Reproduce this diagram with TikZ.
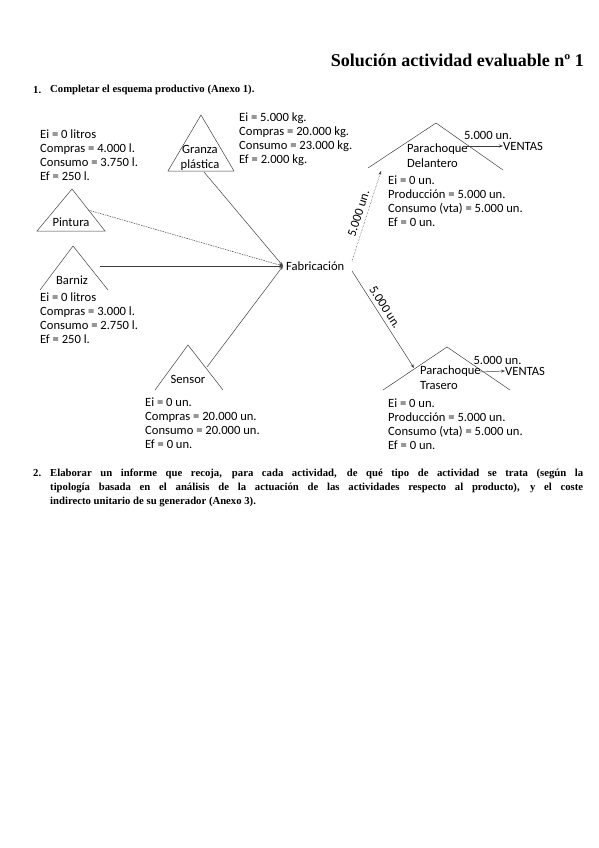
\documentclass[tikz,border=0pt]{standalone}
\usepackage{fontspec}
\setmainfont{Liberation Serif}
\newfontfamily\diagfont{Carlito}
\usetikzlibrary{arrows.meta}
\tikzset{
  info/.style={font=\diagfont\fontsize{12.6}{13.9}\selectfont, align=left, anchor=north west, inner sep=0pt},
  lbl/.style={font=\diagfont\fontsize{12.6}{14.5}\selectfont, inner sep=0pt},
  shapeline/.style={draw=black!75, line width=0.5pt},
  conn/.style={draw=black!75, line width=0.5pt, -{Stealth[length=4pt,width=3pt]}},
  head/.style={font=\bfseries\fontsize{10.7}{14}\selectfont, inner sep=0pt}
}
\begin{document}
\begin{tikzpicture}[x=1pt,y=-1pt]
\useasboundingbox (0,0) rectangle (599,848);
% headings
\node[font=\bfseries\fontsize{18}{20}\selectfont, anchor=east, inner sep=0pt] (title) at (584,60) {Solución actividad evaluable nº 1};
\node[head, anchor=west] (n1) at (33,90) {1.};
\node[head, anchor=west] (h1) at (50,90) {Completar el esquema productivo (Anexo 1).};

% Pintura
\draw[shapeline] (37,231) -- (72,189) -- (105,231) -- cycle;
\node[lbl] (pintura) at (71,222) {Pintura};
\coordinate (pinout) at (88,210);
\node[info] (pinInfo) at (40,130) {Ei = 0 litros\\Compras = 4.000 l.\\Consumo = 3.750 l.\\Ef = 250 l.};

% Granza
\draw[shapeline] (168,171) -- (201,115) -- (234,171) -- cycle;
\node[lbl, align=center] (granza) at (200,158) {Granza\\plástica};
\coordinate (granout) at (204,172);
\node[info] (granInfo) at (239,113) {Ei = 5.000 kg.\\Compras = 20.000 kg.\\Consumo = 23.000 kg.\\Ef = 2.000 kg.};

% Barniz
\draw[shapeline] (40,290) -- (73,246) -- (108,290);
\node[lbl] (barniz) at (72,280) {Barniz};
\coordinate (barout) at (100,266);
\node[info] (barInfo) at (40,293) {Ei = 0 litros\\Compras = 3.000 l.\\Consumo = 2.750 l.\\Ef = 250 l.};

% Sensor
\draw[shapeline] (155,390) -- (188,345) -- (223,390);
\node[lbl] (sensor) at (188,379) {Sensor};
\coordinate (senout) at (207,367);
\node[info] (senInfo) at (145,398) {Ei = 0 un.\\Compras = 20.000 un.\\Consumo = 20.000 un.\\Ef = 0 un.};

% Fabricacion
\node[lbl, anchor=west] (fab) at (286,266) {Fabricación};
\coordinate (fabin) at (283,266);
\coordinate (fabup) at (352,261);
\coordinate (fabdown) at (352,271);

\draw[conn, dash pattern=on 1.5pt off 1pt] (pinout) -- (fabin);
\draw[conn] (granout) -- (fabin);
\draw[conn] (barout) -- (fabin);
\draw[conn] (senout) -- (fabin);

% Parachoque Delantero
\draw[shapeline] (368,168) -- (436,123) -- (503,170);
\node[lbl, align=left, anchor=north west] (del) at (407,144) {Parachoque\\Delantero};
\coordinate (delin) at (381,171);
\node[info] (delInfo) at (388,176) {Ei = 0 un.\\Producción = 5.000 un.\\Consumo (vta) = 5.000 un.\\Ef = 0 un.};
\coordinate (delv) at (465,146);
\node[lbl, anchor=west] (ventas1) at (503,146) {VENTAS};
\draw[conn] (delv) -- (ventas1.west) node[lbl, midway, above=6pt, xshift=4pt] (q1) {5.000 un.};

% Parachoque Trasero
\draw[shapeline] (383,390) -- (447,347) -- (510,390);
\node[lbl, align=left, anchor=north west] (tras) at (420,366) {Parachoque\\Trasero};
\coordinate (trasin) at (414,368);
\node[info] (trasInfo) at (388,399) {Ei = 0 un.\\Producción = 5.000 un.\\Consumo (vta) = 5.000 un.\\Ef = 0 un.};
\coordinate (trasv) at (480,372);
\node[lbl, anchor=west] (ventas2) at (505,371) {VENTAS};
\draw[conn] (trasv) -- (ventas2.west) node[lbl, midway, above=7pt, xshift=5pt] (q2) {5.000 un.};

% flows to products
\draw[conn, densely dotted] (fabup) -- (delin) node[lbl, midway, sloped, above=4pt] (f1) {5.000 un.};
\draw[conn] (fabdown) -- (trasin) node[lbl, midway, sloped, above=4pt, pos=0.42] (f2) {5.000 un.};

% item 2
\node[head, anchor=north west] (n2) at (33,469) {2.};
\node[head, anchor=north west, text width=533pt, align=justify] (h2) at (50,469) {Elaborar un informe que recoja, para cada actividad, de qué tipo de actividad se trata (según la\linebreak tipología basada en el análisis de la actuación de las actividades respecto al producto), y el coste\linebreak indirecto unitario de su generador (Anexo 3).};
\end{tikzpicture}
\end{document}
